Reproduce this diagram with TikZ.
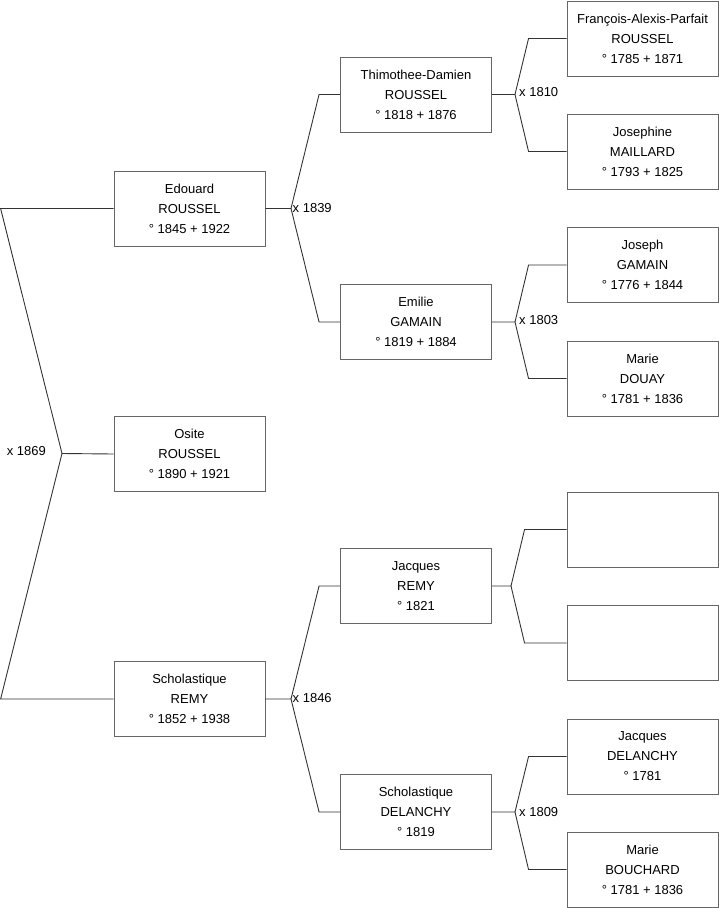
\documentclass[tikz,border=0pt]{standalone}
\usepackage{fontspec}
\setmainfont{Liberation Sans}
\begin{document}
\begin{tikzpicture}[x=1pt,y=-1pt,
  person/.style={draw=black!60,line width=0.9pt,fill=white,minimum width=151pt,minimum height=75pt,
    inner sep=0pt,align=center,font=\fontsize{13}{20}\selectfont},
  conn/.style={draw=black!80,line width=0.9pt},
  lbl/.style={font=\fontsize{13}{16}\selectfont,inner sep=0pt}]
\useasboundingbox (0,0) rectangle (719,908);
% column 1
\node[person] (ed) at (189.5,208.5) {Edouard\\ROUSSEL\\° 1845 + 1922};
\node[person] (os) at (189.5,454) {Osite\\ROUSSEL\\° 1890 + 1921};
\node[person] (sr) at (189.5,699) {Scholastique\\REMY\\° 1852 + 1938};
% column 2
\node[person] (th) at (416,94.5) {Thimothee-Damien\\ROUSSEL\\° 1818 + 1876};
\node[person] (em) at (416,322) {Emilie\\GAMAIN\\° 1819 + 1884};
\node[person] (jr) at (416,586) {Jacques\\REMY\\° 1821};
\node[person] (sd) at (416,812) {Scholastique\\DELANCHY\\° 1819};
% column 3
\node[person] (fr) at (642.5,38.5) {François-Alexis-Parfait\\ROUSSEL\\° 1785 + 1871};
\node[person] (jo) at (642.5,151.5) {Josephine\\MAILLARD\\° 1793 + 1825};
\node[person] (jg) at (642.5,265) {Joseph\\GAMAIN\\° 1776 + 1844};
\node[person] (md) at (642.5,378.5) {Marie\\DOUAY\\° 1781 + 1836};
\node[person] (e1) at (642.5,529.5) {};
\node[person] (e2) at (642.5,643) {};
\node[person] (jd) at (642.5,756.5) {Jacques\\DELANCHY\\° 1781};
\node[person] (mb) at (642.5,869.5) {Marie\\BOUCHARD\\° 1781 + 1836};
% joints
\coordinate (a0) at (62,453.5);
\coordinate (a0u) at (0.6,208.5);
\coordinate (a0d) at (0.6,699);
\coordinate (a1) at (291,208.5);
\coordinate (a2) at (291,699);
\coordinate (b1) at (515,94.5);
\coordinate (b2) at (515,322);
\coordinate (b3) at (511,586);
\coordinate (b4) at (515,812);
% connectors
\draw[conn] (ed.west) -- (a0u) -- (a0) -- (a0d) -- (sr.west);
\draw[conn] (a0) -- (os.west);
\draw[conn] (ed.east) -- (a1) -- ([xshift=-21pt]th.west) -- (th.west);
\draw[conn] (a1) -- ([xshift=-21pt]em.west) -- (em.west);
\draw[conn] (sr.east) -- (a2) -- ([xshift=-21pt]jr.west) -- (jr.west);
\draw[conn] (a2) -- ([xshift=-21pt]sd.west) -- (sd.west);
\draw[conn] (th.east) -- (b1) -- ([xshift=-38pt]fr.west) -- (fr.west);
\draw[conn] (b1) -- ([xshift=-38pt]jo.west) -- (jo.west);
\draw[conn] (em.east) -- (b2) -- ([xshift=-38pt]jg.west) -- (jg.west);
\draw[conn] (b2) -- ([xshift=-38pt]md.west) -- (md.west);
\draw[conn] (jr.east) -- (b3) -- ([xshift=-42pt]e1.west) -- (e1.west);
\draw[conn] (b3) -- ([xshift=-42pt]e2.west) -- (e2.west);
\draw[conn] (sd.east) -- (b4) -- ([xshift=-38pt]jd.west) -- (jd.west);
\draw[conn] (b4) -- ([xshift=-38pt]mb.west) -- (mb.west);
% marriage labels
\node[lbl,anchor=east] (l0) at (46,451) {x 1869};
\node[lbl,anchor=west] (l1) at (292.5,208) {x 1839};
\node[lbl,anchor=west] (l2) at (292.5,698) {x 1846};
\node[lbl,anchor=west] (l3) at (519,92) {x 1810};
\node[lbl,anchor=west] (l4) at (519,320) {x 1803};
\node[lbl,anchor=west] (l5) at (519,812) {x 1809};
\end{tikzpicture}
\end{document}
